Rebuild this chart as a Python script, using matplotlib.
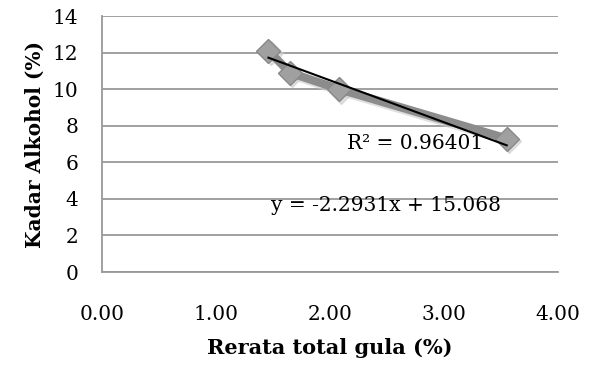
import matplotlib
matplotlib.use("Agg")
import matplotlib.pyplot as plt
import numpy as np

x_vals = [1.46, 1.65, 2.08, 3.55]
y_vals = [12.1, 10.9, 10.0, 7.3]
slope = -2.2931
intercept = 15.068
r2_text = "R² = 0.96401"
eq_text = "y = -2.2931x + 15.068"
x_ticks = [0, 1, 2, 3, 4]
x_tick_labels = ["0.00", "1.00", "2.00", "3.00", "4.00"]
y_ticks = [0, 2, 4, 6, 8, 10, 12, 14]

plt.rcParams['font.family'] = ['DejaVu Serif']

fig = plt.figure(figsize=(5.96, 3.65), dpi=100)
ax = fig.add_axes([102/596, 1-272/365, (558-102)/596, (272-16)/365])

ax.set_xlim(0, 4)
ax.set_ylim(0, 14)
ax.set_yticks(y_ticks)
ax.set_xticks(x_ticks)
ax.set_xticklabels(x_tick_labels)
ax.grid(axis='y', color='#999999', linewidth=1.3)
ax.set_axisbelow(True)
for s in ['top', 'right']:
    ax.spines[s].set_visible(False)
for s in ['left', 'bottom']:
    ax.spines[s].set_color('#999999')
    ax.spines[s].set_linewidth(1.3)
ax.tick_params(axis='both', length=0, labelsize=14.5)
ax.tick_params(axis='x', pad=24)
ax.tick_params(axis='y', pad=17)

# shadow
ax.plot(np.array(x_vals)+0.02, np.array(y_vals)-0.15, color='#cccccc', lw=6, marker='D',
        markersize=12, markerfacecolor='#cccccc', markeredgecolor='#cccccc', alpha=0.6, zorder=2)
ax.plot(x_vals, y_vals, color='#8c8c8c', lw=6, marker='D', markersize=12,
        markerfacecolor='#a0a0a0', markeredgecolor='#888888', zorder=3)
xt = np.array([x_vals[0], x_vals[-1]])
ax.plot(xt, slope*xt + intercept, color='black', lw=1.5, zorder=4)

ax.text(2.75, 7.05, r2_text, fontsize=14.5, ha='center', va='center', zorder=5)
ax.text(2.49, 3.66, eq_text, fontsize=14.5, ha='center', va='center', zorder=5)

ax.set_xlabel("Rerata total gula (%)", fontsize=15, fontweight='bold', labelpad=10)
ax.set_ylabel("Kadar Alkohol (%)", fontsize=14.5, fontweight='bold', labelpad=6)

fig.savefig("out.png", dpi=100)
